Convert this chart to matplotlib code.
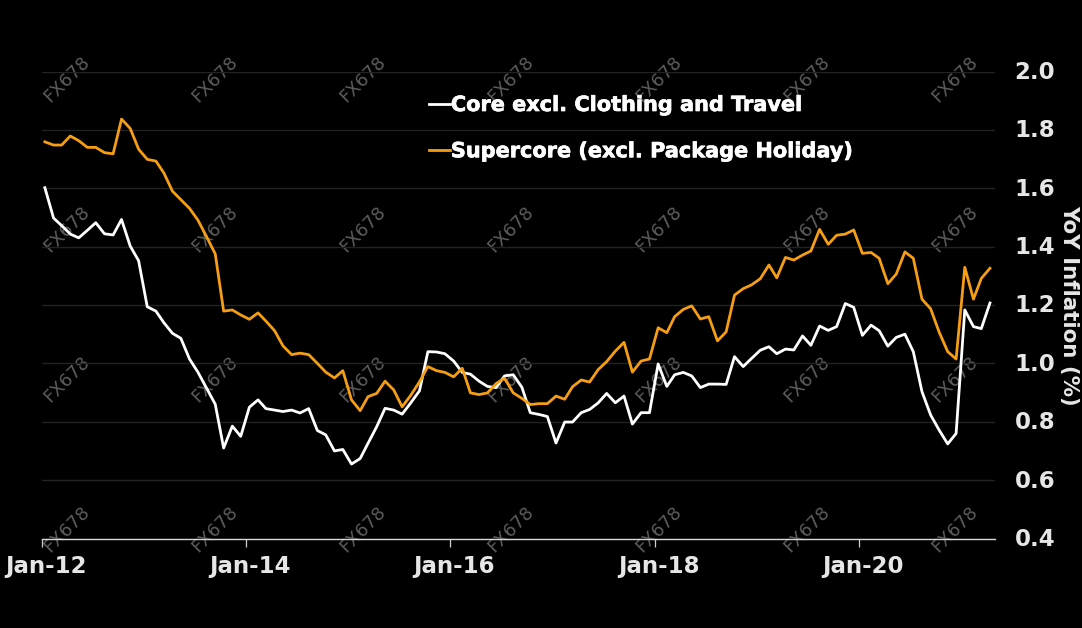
import matplotlib
matplotlib.use("Agg")
import matplotlib.pyplot as plt
import matplotlib.dates as mdates
import matplotlib.patheffects as pe
import matplotlib.transforms as mtrans
import numpy as np
import pandas as pd

# monthly values
core = [1.602,1.498,1.472,1.443,1.43,1.456,1.482,1.444,1.44,1.493,1.402,1.352,1.194,1.179,1.14,1.103,1.086,1.015,
        0.97,0.915,0.86,0.71,0.785,0.75,0.85,0.875,0.845,0.84,0.835,0.84,0.83,0.845,0.77,0.755,0.70,0.705,0.655,
        0.674,0.726,0.783,0.846,0.84,0.826,0.865,0.906,1.04,1.039,1.033,1.008,0.969,0.963,0.939,0.921,0.917,0.957,
        0.961,0.918,0.831,0.825,0.818,0.727,0.799,0.799,0.831,0.842,0.865,0.897,0.865,0.888,0.792,0.831,0.831,0.998,
        0.921,0.961,0.969,0.957,0.917,0.929,0.929,0.928,1.023,0.989,1.017,1.045,1.057,1.033,1.049,1.046,1.094,1.062,
        1.128,1.113,1.126,1.205,1.192,1.096,1.131,1.112,1.059,1.089,1.1,1.04,0.903,0.823,0.772,0.724,0.76,1.183,
        1.126,1.119,1.207]
supercore = [1.759,1.748,1.748,1.779,1.763,1.74,1.74,1.722,1.718,1.837,1.805,1.734,1.699,1.693,1.653,1.59,1.561,1.531,
             1.491,1.434,1.375,1.179,1.183,1.166,1.151,1.173,1.145,1.112,1.06,1.03,1.035,1.03,1.0,0.97,0.95,0.975,0.875,
             0.838,0.886,0.897,0.939,0.909,0.851,0.891,0.937,0.989,0.975,0.969,0.954,0.983,0.899,0.893,0.899,0.931,0.949,
             0.899,0.88,0.859,0.862,0.862,0.888,0.877,0.92,0.943,0.936,0.979,1.006,1.042,1.072,0.97,1.008,1.015,1.122,
             1.105,1.16,1.185,1.197,1.152,1.16,1.077,1.108,1.234,1.256,1.269,1.29,1.337,1.293,1.363,1.354,1.371,1.385,
             1.459,1.408,1.439,1.443,1.457,1.377,1.38,1.36,1.273,1.306,1.382,1.36,1.22,1.187,1.108,1.04,1.015,1.329,
             1.22,1.291,1.326]
dates = pd.date_range("2012-01-01", periods=len(core), freq="MS") + pd.Timedelta(days=12)

y_ticks = [0.4,0.6,0.8,1.0,1.2,1.4,1.6,1.8,2.0]
x_ticks = pd.to_datetime(["2012-01-01","2014-01-01","2016-01-01","2018-01-01","2020-01-01"])
orange = "#F59E14"
W, H = 1082, 628

fig = plt.figure(figsize=(W/100, H/100), dpi=100, facecolor="black")
ax = fig.add_axes([41.5/W, 1-538.5/H, (995-41.5)/W, (538.5-71.5)/H])
ax.patch.set_visible(False)

l1, = ax.plot(dates, core, color="white", lw=2.0, label="Core excl. Clothing and Travel", zorder=3)
l2, = ax.plot(dates, supercore, color=orange, lw=2.0, label="Supercore (excl. Package Holiday)", zorder=3)

ax.set_ylim(0.4, 2.0)
ax.set_xlim(pd.Timestamp("2012-01-01"), pd.Timestamp("2021-05-01"))
ax.yaxis.tick_right()
ax.yaxis.set_label_position("right")
ax.set_yticks(y_ticks)
ax.set_yticklabels([f"{v:.1f}" for v in y_ticks], fontsize=16.5, fontweight="bold", color="#e6e6e6")
ax.set_xticks(x_ticks)
ax.xaxis.set_major_formatter(mdates.DateFormatter("%b-%y"))
ax.tick_params(axis="y", length=0, pad=14)
ax.tick_params(axis="x", length=7.5*0.72, width=0.9, color="#d0d0d0", pad=6.5)

# labels sit a little off their ticks, has to come after tick_params
for lab in ax.get_xticklabels():
    lab.set_fontsize(16.5)
    lab.set_fontweight("bold")
    lab.set_color("#e6e6e6")
    lab.set_transform(lab.get_transform() + mtrans.ScaledTranslation(4/100, 0, fig.dpi_scale_trans))
for lab in ax.get_yticklabels():
    lab.set_transform(lab.get_transform() + mtrans.ScaledTranslation(0, 1.5/100, fig.dpi_scale_trans))

ax.grid(axis="y", color="#222222", lw=1)
ax.set_axisbelow(True)
for s in ["top", "left", "right"]:
    ax.spines[s].set_visible(False)
ax.spines["bottom"].set_color("#d8d8d8")
ax.spines["bottom"].set_linewidth(1)

ax.set_ylabel("YoY Inflation (%)", fontsize=15.4, fontweight="bold", color="#e6e6e6", rotation=270, labelpad=0)
ax.yaxis.set_label_coords(1079/W, 1-305/H, transform=fig.transFigure)

# watermark grid, behind the axes
for x in [67, 215, 363, 511, 659, 807, 955]:
    for y in [79, 229, 379, 529]:
        fig.text(x/W, 1-y/H, "FX678", color="#5c5c5c", fontsize=13, rotation=45,
                 ha="center", va="center", zorder=-1)

leg = ax.legend(handles=[l1, l2], loc="upper left", bbox_to_anchor=(429/W, 1-95/H),
                bbox_transform=fig.transFigure, frameon=False, fontsize=15,
                handlelength=1.0, handletextpad=0.05, labelspacing=1.26, borderpad=0, borderaxespad=0)
for t in leg.get_texts():
    t.set_color("white")
    t.set_fontweight("bold")
    t.set_path_effects([pe.withStroke(linewidth=0.5, foreground="white")])

fig.savefig("out.png", dpi=100, facecolor="black")
